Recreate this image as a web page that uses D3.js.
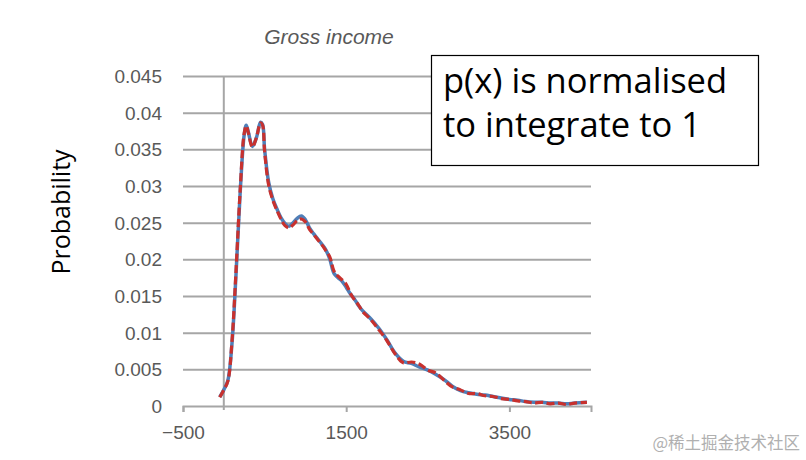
<!DOCTYPE html>
<html><head><meta charset="utf-8">
<script src="https://cdn.jsdelivr.net/npm/d3@7"></script>
<style>body{margin:0;background:#fff}svg{display:block}</style>
</head><body>
<svg id="c" width="806" height="460"></svg>
<script>
const title = "Gross income";
const yLabel = "Probability";
const note = ["p(x) is normalised", "to integrate to 1"];
const watermark = "@稀土掘金技术社区";
const xTicks = [-500, 1500, 3500];
const yTicks = [0,0.005,0.01,0.015,0.02,0.025,0.03,0.035,0.04,0.045];
const yTickLabels = ["0","0.005","0.01","0.015","0.02","0.025","0.03","0.035","0.04","0.045"];
const income = [-50,0,50,100,150,200,250,275,300,350,400,450,475,500,550,600,650,700,750,800,850,900,950,1000,1050,1100,1150,1200,1250,1300,1350,1400,1450,1500,1550,1600,1650,1700,1800,1900,2000,2100,2200,2300,2400,2500,2600,2700,2800,2900,3000,3100,3200,3300,3400,3500,3600,3700,3800,3900,4000,4100,4200,4300,4450];
const blue = [0.0012,0.0022,0.0035,0.0085,0.0180,0.0290,0.0370,0.0383,0.0374,0.0354,0.0366,0.0387,0.0384,0.0350,0.0305,0.0283,0.0269,0.0257,0.0249,0.0245,0.0250,0.0256,0.0259,0.0254,0.0243,0.0235,0.0228,0.0221,0.0213,0.0200,0.0181,0.0175,0.0170,0.0162,0.0153,0.0146,0.0137,0.0130,0.0119,0.0106,0.0090,0.0072,0.0061,0.0058,0.0053,0.0049,0.0043,0.0036,0.0027,0.0021,0.0018,0.0016,0.0015,0.0013,0.0011,0.0009,0.0008,0.0006,0.0005,0.0005,0.0004,0.0004,0.0003,0.0004,0.0005];
const red  = [0.0012,0.0022,0.0034,0.0088,0.0185,0.0293,0.0372,0.0382,0.0373,0.0353,0.0366,0.0386,0.0383,0.0347,0.0301,0.0281,0.0267,0.0255,0.0246,0.0243,0.0247,0.0253,0.0255,0.0251,0.0241,0.0234,0.0227,0.0220,0.0212,0.0203,0.0184,0.0177,0.0172,0.0166,0.0154,0.0145,0.0138,0.0129,0.0118,0.0104,0.0089,0.0071,0.0059,0.0060,0.0057,0.0049,0.0045,0.0035,0.0026,0.0022,0.0017,0.0017,0.0014,0.0013,0.0010,0.0009,0.0007,0.0006,0.0004,0.0005,0.0003,0.0004,0.0002,0.0004,0.0005];

const svg = d3.select("#c");
const x = d3.scaleLinear().domain([-500, 4500]).range([183, 591]);
const y = d3.scaleLinear().domain([0, 0.045]).range([406, 76]);
const grey = "#a6a6a6";

// gridlines
svg.append("g")
  .attr("transform", `translate(${x(-500)},0)`)
  .call(d3.axisRight(y).tickValues(yTicks.slice(1)).tickSize(x(4500)-x(-500)).tickFormat(""))
  .call(g => g.select(".domain").remove())
  .call(g => g.selectAll("line").attr("stroke", grey).attr("stroke-width", 2));

// y labels
svg.append("g")
  .attr("transform", `translate(${x(-500)-6},0)`)
  .call(d3.axisLeft(y).tickValues(yTicks).tickSize(0).tickPadding(15).tickFormat((d,i)=>yTickLabels[i]))
  .call(g => g.select(".domain").remove())
  .call(g => g.selectAll("text").attr("font-family","'Liberation Sans', Arial, sans-serif").attr("font-size",19).attr("fill","#595959").attr("dy","0.35em"));

// vertical zero axis
svg.append("line").attr("x1", x(0)).attr("x2", x(0)).attr("y1", y(0.045)).attr("y2", y(0)+4)
  .attr("stroke", grey).attr("stroke-width", 2);

// x axis
svg.append("g")
  .attr("transform", `translate(0,${y(0)})`)
  .call(d3.axisBottom(x).tickValues(xTicks).tickSize(6).tickPadding(14).tickFormat(d3.format("d")))
  .call(g => g.select(".domain").attr("stroke", grey).attr("stroke-width", 2))
  .call(g => g.selectAll("line").attr("stroke", grey).attr("stroke-width", 2))
  .call(g => g.selectAll("text").attr("font-family","'Liberation Sans', Arial, sans-serif").attr("font-size",19).attr("fill","#595959"));

// lines
const pts = (vals) => income.map((d,i)=>[d, vals[i]]);
const line = d3.line().x(d=>x(d[0])).y(d=>y(d[1])).curve(d3.curveCatmullRom.alpha(0.5));
svg.append("path").attr("d", line(pts(blue))).attr("fill","none").attr("stroke","#4f7fb8").attr("stroke-width",3.5).attr("stroke-linejoin","round");
svg.append("path").attr("d", line(pts(red))).attr("fill","none").attr("stroke","#c8312e").attr("stroke-width",3.2).attr("stroke-dasharray","8,3.5");

// title
svg.append("text").attr("x", 329).attr("y", 44).attr("text-anchor","middle")
  .attr("font-family","'Liberation Sans', Arial, sans-serif").attr("font-style","italic").attr("font-size",21).attr("fill","#595959").text(title);

// y label
svg.append("text").attr("transform","translate(70,212) rotate(-90)").attr("text-anchor","middle")
  .attr("font-family","'Open Sans', sans-serif").attr("font-size",25).attr("fill","#000").text(yLabel);

// note box
svg.append("rect").attr("x",431.5).attr("y",55.5).attr("width",327).attr("height",110).attr("fill","#fff").attr("stroke","#000").attr("stroke-width",1.2);
svg.selectAll("text.note").data(note).enter().append("text").attr("class","note")
  .attr("x",443).attr("y",(d,i)=>93+i*43.5)
  .attr("font-family","'Open Sans', sans-serif").attr("font-size",34.5).attr("fill","#000").text(d=>d);

// watermark
svg.append("text").attr("x",800).attr("y",449).attr("text-anchor","end")
  .attr("font-family","'Noto Sans CJK SC', sans-serif").attr("font-size",16.5).attr("fill","#b0b0b0").text(watermark);
</script>
</body></html>
